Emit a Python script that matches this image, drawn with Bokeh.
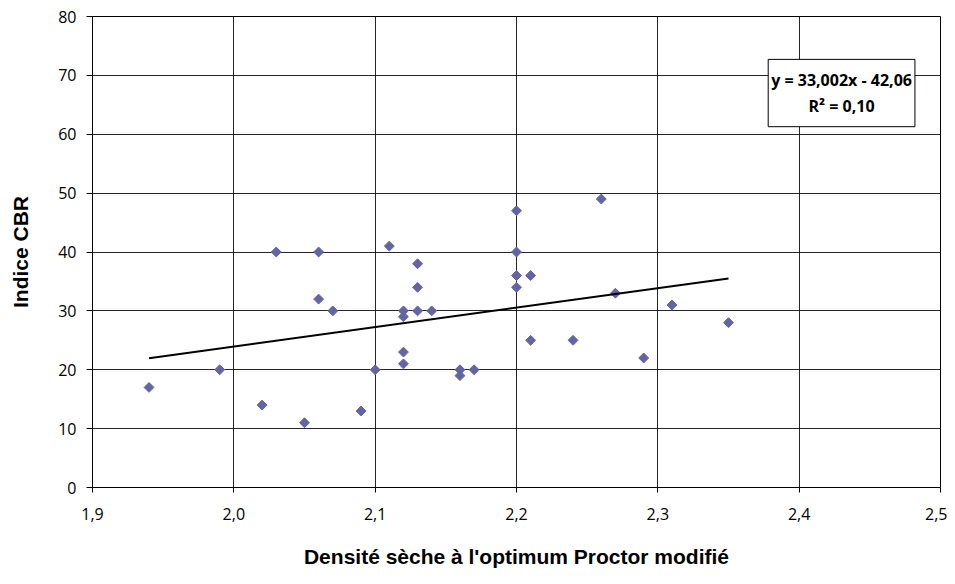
import numpy as np
from bokeh.plotting import figure
from bokeh.models import Range1d, FixedTicker, CustomJSTickFormatter, Label, ColumnDataSource
from bokeh.embed import file_html
from bokeh.resources import INLINE

# Data
densite = [1.94, 1.99, 2.02, 2.03, 2.05, 2.06, 2.06, 2.07, 2.09, 2.10,
           2.11, 2.12, 2.12, 2.12, 2.12, 2.13, 2.13, 2.13, 2.14, 2.16,
           2.16, 2.17, 2.20, 2.20, 2.20, 2.20, 2.21, 2.21, 2.24, 2.26,
           2.27, 2.29, 2.31, 2.35]
cbr = [17, 20, 14, 40, 11, 40, 32, 30, 13, 20,
       41, 30, 29, 23, 21, 38, 34, 30, 30, 20,
       19, 20, 47, 40, 36, 34, 36, 25, 25, 49,
       33, 22, 31, 28]

slope = 33.002
intercept = -42.06
r2_text = "0,10"

x_ticks = [1.9, 2.0, 2.1, 2.2, 2.3, 2.4, 2.5]
y_ticks = [0, 10, 20, 30, 40, 50, 60, 70, 80]

p = figure(width=947, height=576, output_backend="svg", toolbar_location=None,
           x_range=Range1d(1.9, 2.5), y_range=Range1d(0, 80),
           min_border_left=92, min_border_right=7, min_border_top=16, min_border_bottom=89)
p.background_fill_color = "white"
p.border_fill_color = "white"
p.outline_line_color = "black"
p.outline_line_width = 1

# grid
for g in (p.xgrid, p.ygrid):
    g.grid_line_color = "black"
    g.grid_line_alpha = 0.85
    g.grid_line_width = 1
p.xgrid.ticker = FixedTicker(ticks=x_ticks)
p.ygrid.ticker = FixedTicker(ticks=y_ticks)

# axes
p.xaxis.ticker = FixedTicker(ticks=x_ticks)
p.yaxis.ticker = FixedTicker(ticks=y_ticks)
p.xaxis.formatter = CustomJSTickFormatter(code="return tick.toFixed(1).replace('.', ',');")
for ax in (p.xaxis, p.yaxis):
    ax.axis_line_color = "black"
    ax.major_tick_line_color = "black"
    ax.minor_tick_line_color = None
    ax.major_tick_in = 0
    ax.major_label_text_font = "Open Sans"
    ax.major_label_text_font_size = "16px"
    ax.major_label_text_color = "black"
    ax.axis_label_text_font = "Liberation Sans"
    ax.axis_label_text_font_style = "bold"
    ax.axis_label_text_font_size = "21px"
    ax.axis_label_text_color = "black"
p.xaxis.major_tick_out = 5
p.yaxis.major_tick_out = 6
p.xaxis.major_label_standoff = 15
p.yaxis.major_label_standoff = 10
p.xaxis.axis_label = "Densité sèche à l'optimum Proctor modifié"
p.yaxis.axis_label = "Indice CBR"
p.xaxis.axis_label_standoff = 22
p.yaxis.axis_label_standoff = 23

# points
src = ColumnDataSource(dict(x=densite, y=cbr))
p.scatter("x", "y", source=src, marker="square", angle=np.pi / 4, size=7,
          fill_color="#6464A4", line_color="#6464A4")

# trend line
xs = np.array([min(densite), max(densite)])
ys = slope * xs + intercept
p.line(xs, ys, line_color="black", line_width=2)

# equation box
eq = "y = " + f"{slope:.3f}".replace(".", ",") + "x - " + f"{-intercept:.2f}".replace(".", ",") + "\nR² = " + r2_text
lab = Label(x=2.43, y=67.0, text=eq, text_align="center", text_baseline="middle",
            text_font="Open Sans", text_font_style="bold", text_font_size="16px",
            text_line_height=1.15,
            text_color="black", border_line_color="black", border_line_width=1,
            background_fill_color="white", padding=dict(left=3, right=3, top=10, bottom=10))
p.add_layout(lab)

open("out.html", "w").write(file_html(p, INLINE))
